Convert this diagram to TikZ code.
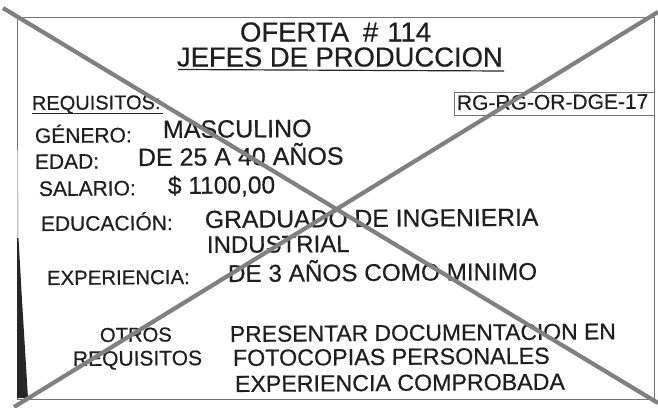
\documentclass[tikz,border=0pt]{standalone}
\usepackage{fontspec}
\setmainfont{Liberation Sans}[FakeBold=0.5]
\begin{document}
\begin{tikzpicture}[x=1pt,y=-1pt,
  txt/.style={anchor=base west,inner sep=0pt,outer sep=0pt,text=black!88,rotate=0.4},
  ttl/.style={anchor=base west,inner sep=0pt,outer sep=0pt,text=black!88,text depth=0pt},
  frame/.style={draw=black!55,line width=0.8pt},
  cross/.style={draw=black!50,line width=4.2pt}]
\useasboundingbox (0,0) rectangle (658,407);
\fill[white] (0,0) rectangle (658,407);
% sheet
\draw[frame] (17,17) rectangle (654,399);
\fill[black!85] (17,238) -- (18.5,238) -- (22,300) -- (28,398) -- (17,398) -- cycle;
\fill[black!25] (17,150) -- (18,150) -- (18.5,238) -- (17,238) -- cycle;
% title
\node[ttl,font=\fontsize{27.5}{29}\selectfont] (t1) at (240,41.5) {OFERTA\hspace{14pt}\#\hspace{9pt}114};
\node[ttl,text height=19.8pt,font=\fontsize{27.4}{29}\selectfont] (t2) at (177,66.5) {JEFES DE PRODUCCION};
\draw[black!85,line width=1.2pt] (178,69.5) -- (504,71);
% requisitos
\node[txt,font=\fontsize{20}{22}\selectfont] (req) at (32,110) {REQUISITOS:};
\draw[black!85,line width=1pt] (32,113) -- (163,113);
\draw[draw=black!55,line width=0.7pt] (454,92) rectangle (654,115);
\node[txt,font=\fontsize{21}{23}\selectfont] (code) at (457,110) {RG-RG-OR-DGE-17};
% rows
\node[txt,font=\fontsize{21}{23}\selectfont] (l1) at (35,143) {GÉNERO:};
\node[txt,font=\fontsize{25}{27}\selectfont] (v1) at (163,138) {MASCULINO};
\node[txt,font=\fontsize{21}{23}\selectfont] (l2) at (35,169) {EDAD:};
\node[txt,font=\fontsize{25}{27}\selectfont] (v2) at (138,166) {DE 25 A 40 AÑOS};
\node[txt,font=\fontsize{21}{23}\selectfont] (l3) at (39,196) {SALARIO:};
\node[txt,font=\fontsize{24.5}{27}\selectfont] (v3) at (168,194) {\$ 1100,00};
\node[txt,font=\fontsize{21}{23}\selectfont] (l4) at (41,231) {EDUCACIÓN:};
\node[txt,font=\fontsize{24.7}{27}\selectfont] (v4) at (205,228) {GRADUADO DE INGENIERIA};
\node[txt,font=\fontsize{24}{27}\selectfont] (v4b) at (207,253) {INDUSTRIAL};
\node[txt,font=\fontsize{20.4}{23}\selectfont] (l5) at (47,285) {EXPERIENCIA:};
\node[txt,font=\fontsize{24.3}{27}\selectfont] (v5) at (228,282) {DE 3 AÑOS COMO MINIMO};
\node[txt,font=\fontsize{20.2}{23}\selectfont] (l6a) at (100,342) {OTROS};
\node[txt,font=\fontsize{21}{23}\selectfont] (l6b) at (73,366) {REQUISITOS};
\node[txt,font=\fontsize{22.9}{25}\selectfont] (v6a) at (230,342) {PRESENTAR DOCUMENTACION EN};
\node[txt,font=\fontsize{23.3}{25}\selectfont] (v6b) at (233,366) {FOTOCOPIAS PERSONALES};
\node[txt,font=\fontsize{23.2}{25}\selectfont] (v6c) at (235,392) {EXPERIENCIA COMPROBADA};
% cross
\coordinate (a1) at (3,8);
\coordinate (a2) at (658,403);
\coordinate (b1) at (658,12);
\coordinate (b2) at (14,407);
\draw[cross] (a1) -- (a2);
\draw[cross] (b1) -- (b2);
\end{tikzpicture}
\end{document}
